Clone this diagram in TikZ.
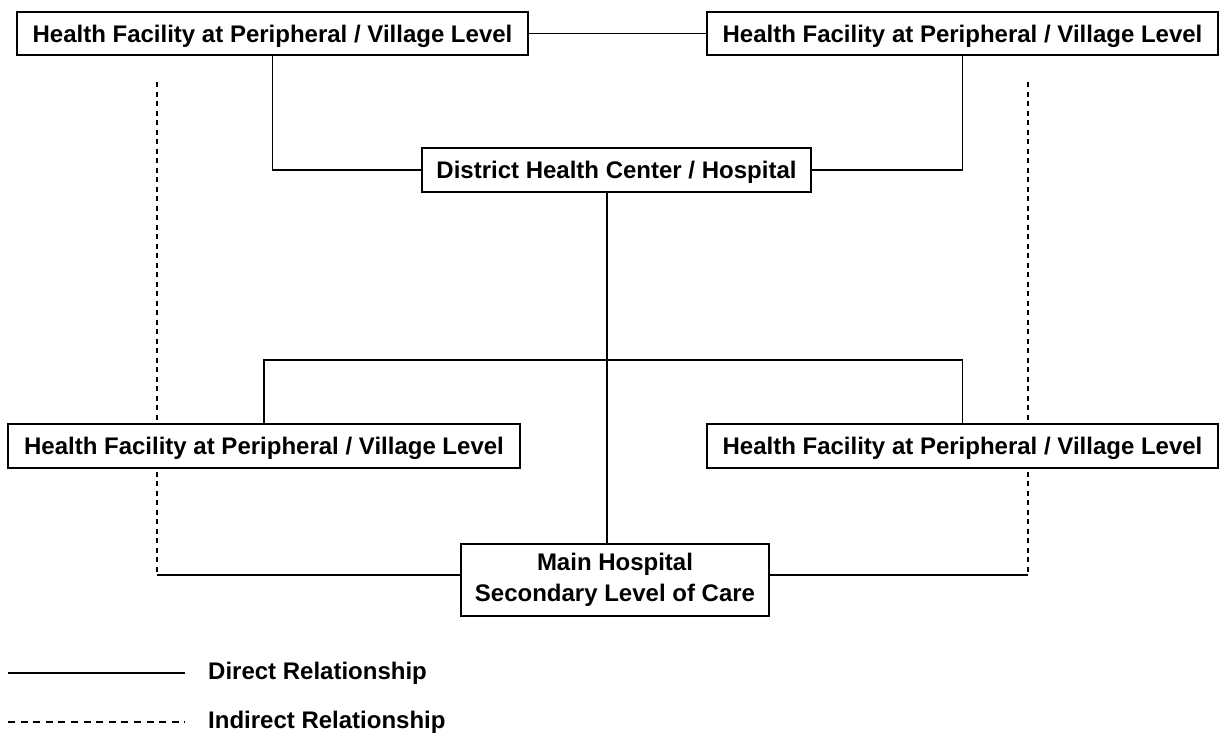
\documentclass[tikz,border=0pt]{standalone}
\usepackage{fontspec}
\setmainfont{Liberation Sans}
\usetikzlibrary{backgrounds}
\begin{document}
\begin{tikzpicture}[x=1pt,y=-1pt,
  box/.style={draw=black, fill=white, line width=1.6pt, inner sep=0pt,
    font=\fontsize{24}{31}\selectfont\bfseries, align=center},
  onebox/.style={box, text height=17pt, text depth=0pt},
  direct/.style={draw=black, line width=1.6pt},
  indirect/.style={draw=black, line width=1.3pt, dash pattern=on 5pt off 4.5pt},
  legdash/.style={draw=black, line width=1.3pt, dash pattern=on 7pt off 5.6pt},
  legtext/.style={anchor=west, inner sep=0pt, font=\fontsize{24}{29}\selectfont\bfseries}]
\useasboundingbox (0,0) rectangle (1222,732);

\node[onebox, minimum width=511pt, minimum height=43pt] (tl) at (272.5,33.5) {Health Facility at Peripheral / Village Level};
\node[onebox, minimum width=511pt, minimum height=43pt] (tr) at (962.5,33.5) {Health Facility at Peripheral / Village Level};
\node[onebox, minimum width=389pt, minimum height=44pt] (dc) at (616.5,170) {District Health Center / Hospital};
\node[onebox, minimum width=512pt, minimum height=44pt] (ml) at (264,446) {Health Facility at Peripheral / Village Level};
\node[onebox, minimum width=511pt, minimum height=44pt] (mr) at (962.5,446) {Health Facility at Peripheral / Village Level};
\node[box, minimum width=308pt, minimum height=72pt] (mh) at (615,580) {Main Hospital\\Secondary Level of Care};

\coordinate (bar) at (607,360);
\coordinate (dlt) at (157,82);
\coordinate (dlb) at (157,575);
\coordinate (drt) at (1028,82);
\coordinate (drb) at (1028,575);

\begin{scope}[on background layer]
  \fill[white] (0,0) rectangle (1222,732);
  \draw[direct] (tl.east) -- (tr.west);
  \draw[direct] (tl.south) |- (dc.west);
  \draw[direct] (tr.south) |- (dc.east);
  \draw[direct] ([xshift=-9.5pt]dc.south) -- ([xshift=-8pt]mh.north);
  \draw[direct] (ml.north) |- (bar) -| (mr.north);
  \draw[indirect] (dlt) -- (dlb);
  \draw[indirect] (drt) -- (drb);
  \draw[direct] (dlb) -- (dlb -| mh.west);
  \draw[direct] (drb) -- (drb -| mh.east);
\end{scope}

\coordinate (la) at (8,673);
\coordinate (lb) at (185,673);
\coordinate (lc) at (8,722);
\coordinate (ld) at (185,722);
\draw[direct] (la) -- (lb);
\draw[legdash] (lc) -- (ld);
\node[legtext] (t1) at (208,673) {Direct Relationship};
\node[legtext] (t2) at (208,722) {Indirect Relationship};
\end{tikzpicture}
\end{document}
